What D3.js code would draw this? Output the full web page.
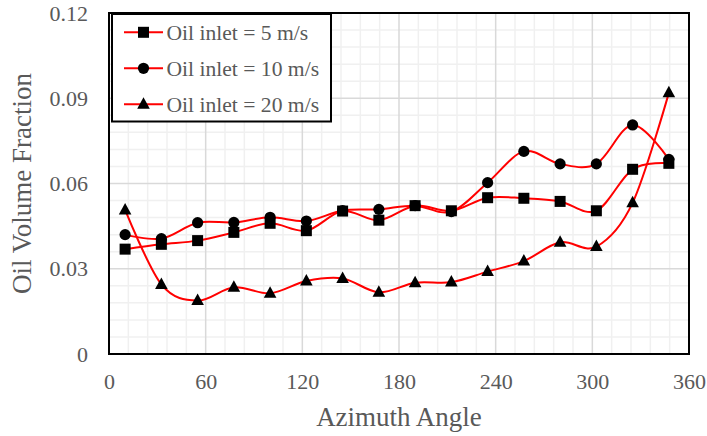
<!DOCTYPE html>
<html><head><meta charset="utf-8">
<script src="https://cdn.jsdelivr.net/npm/d3@7"></script>
<style>
html,body{margin:0;padding:0;background:#fff;}
svg{display:block;}
svg text{font-family:"Liberation Serif","Times New Roman","DejaVu Serif",serif !important;}
</style></head>
<body><svg id="chart" width="707" height="436" font-family="Liberation Serif"></svg>
<script>
const angles = [10,32.5,55,77.5,100,122.5,145,167.5,190,212.5,235,257.5,280,302.5,325,347.5];
const seriesNames = ["Oil inlet = 5 m/s","Oil inlet = 10 m/s","Oil inlet = 20 m/s"];
const v5  = [0.0369,0.0386,0.0399,0.0428,0.0460,0.0434,0.0503,0.0471,0.0522,0.0504,0.0550,0.0548,0.0537,0.0504,0.0650,0.0671];
const v10 = [0.0420,0.0406,0.0462,0.0463,0.0481,0.0468,0.0505,0.0509,0.0522,0.0501,0.0603,0.0713,0.0669,0.0669,0.0806,0.0685];
const v20 = [0.0507,0.0245,0.0188,0.0235,0.0214,0.0257,0.0266,0.0217,0.0251,0.0253,0.0290,0.0327,0.0393,0.0378,0.0532,0.0919];
const xTicks = [0,60,120,180,240,300,360];
const yTicks = [0,0.03,0.06,0.09,0.12];
const yTickLabels = ["0","0.03","0.06","0.09","0.12"];
const markerTypes = ["square","circle","triangle"];

const FONT = "Liberation Serif, Times New Roman, serif";
const svg = d3.select("#chart");
const L=109, T=13, R=689, B=354;
const x = d3.scaleLinear().domain([0,360]).range([L,R]);
const y = d3.scaleLinear().domain([0,0.12]).range([B,T]);

// minor grid
const g = svg.append("g");
d3.range(0,361,12).forEach(v=>{ if(v%60) g.append("line").attr("x1",x(v)).attr("x2",x(v)).attr("y1",T).attr("y2",B).attr("stroke","#f0f0f0").attr("stroke-width",1.5);});
d3.range(0,0.1201,0.006).forEach((v,i)=>{ if(i%5) g.append("line").attr("x1",L).attr("x2",R).attr("y1",y(v)).attr("y2",y(v)).attr("stroke","#f0f0f0").attr("stroke-width",1.5);});
xTicks.forEach(v=>g.append("line").attr("x1",x(v)).attr("x2",x(v)).attr("y1",T).attr("y2",B).attr("stroke","#d9d9d9").attr("stroke-width",1.5));
yTicks.forEach(v=>g.append("line").attr("x1",L).attr("x2",R).attr("y1",y(v)).attr("y2",y(v)).attr("stroke","#d9d9d9").attr("stroke-width",1.5));

// axes labels
const xAxis = d3.axisBottom(x).tickValues(xTicks).tickSize(0).tickPadding(19);
const ax = svg.append("g").attr("transform",`translate(0,${B})`).call(xAxis).attr("font-family",FONT).attr("font-size",22);
ax.select(".domain").remove();
ax.selectAll("text").attr("fill","#595959");
const yAxis = d3.axisLeft(y).tickValues(yTicks).tickFormat((d,i)=>yTickLabels[i]).tickSize(0).tickPadding(21);
const ay = svg.append("g").attr("transform",`translate(${L},0)`).call(yAxis).attr("font-family",FONT).attr("font-size",22);
ay.select(".domain").remove();
ay.selectAll("text").attr("fill","#595959");

// plot border
svg.append("rect").attr("x",L).attr("y",T).attr("width",R-L).attr("height",B-T).attr("fill","none").attr("stroke","#000").attr("stroke-width",2);

// titles
svg.append("text").attr("x",(L+R)/2).attr("y",426).attr("text-anchor","middle").attr("fill","#595959").attr("font-family",FONT).attr("font-size",27).text("Azimuth Angle");
svg.append("text").attr("transform",`translate(31,${(T+B)/2}) rotate(-90)`).attr("text-anchor","middle").attr("fill","#595959").attr("font-family",FONT).attr("font-size",27).text("Oil Volume Fraction");

const line = d3.line().x((d,i)=>x(angles[i])).y(d=>y(d)).curve(d3.curveCatmullRom.alpha(0));
const allSeries = [v5,v10,v20];
function drawMarker(sel,type,cx,cy){
  if(type==="square") sel.append("rect").attr("x",cx-5.5).attr("y",cy-5.5).attr("width",11).attr("height",11).attr("fill","#000");
  else if(type==="circle") sel.append("circle").attr("cx",cx).attr("cy",cy).attr("r",5.6).attr("fill","#000");
  else sel.append("path").attr("d",`M${cx},${cy-7}L${cx+6.3},${cy+4.5}L${cx-6.3},${cy+4.5}Z`).attr("fill","#000");
}
allSeries.forEach((s,k)=>{
  svg.append("path").attr("d",line(s)).attr("fill","none").attr("stroke","#ff0000").attr("stroke-width",2);
});
allSeries.forEach((s,k)=>{
  const mg = svg.append("g");
  s.forEach((v,i)=>drawMarker(mg,markerTypes[k],x(angles[i]),y(v)));
});

// legend
const lg = svg.append("g");
lg.append("rect").attr("x",112).attr("y",14).attr("width",219).attr("height",107.5).attr("fill","#fff").attr("stroke","#000").attr("stroke-width",2);
seriesNames.forEach((n,k)=>{
  const cy = 32.3 + k*36;
  lg.append("line").attr("x1",124).attr("x2",163).attr("y1",cy).attr("y2",cy).attr("stroke","#ff0000").attr("stroke-width",2);
  drawMarker(lg,markerTypes[k],143.5,cy);
  lg.append("text").attr("x",166.5).attr("y",cy+7.5).attr("fill","#595959").attr("font-family",FONT).attr("font-size",21.6).text(n);
});
</script></body></html>
